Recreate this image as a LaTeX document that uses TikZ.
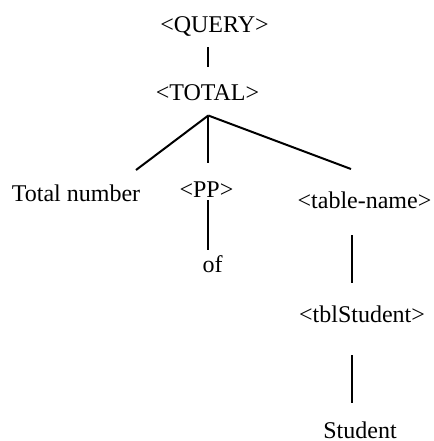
\documentclass[tikz,border=0pt]{standalone}
\usepackage{fontspec}
\setmainfont{Liberation Serif}
\usetikzlibrary{positioning}

\begin{document}
\begin{tikzpicture}[
    x=0.5pt, y=-0.5pt,
    word/.style={anchor=base, inner sep=0pt, font=\fontsize{12}{14}\selectfont},
    branch/.style={draw, line width=1pt}
]
\useasboundingbox (0,0) rectangle (434,441);

\node[word] (query) at (214.5,32) {<QUERY>};
\node[word] (total) at (207.5,100) {<TOTAL>};

\node[word] (tn) at (76,201) {Total number};
\node[word] (pp) at (206.5,197) {<PP>};
\node[word] (tname) at (364.5,208) {<table-name>};

\node[word] (of) at (212.5,272) {of};
\node[word] (tbl) at (362,322.5) {<tblStudent>};
\node[word] (student) at (360,438) {Student};

\coordinate (q-low) at (208.3,47);
\coordinate (t-top) at (208.3,67);
\coordinate (fork) at (208.3,115.5);
\coordinate (tn-top) at (136,170);
\coordinate (pp-top) at (208.3,163);
\coordinate (tname-top) at (351,169);
\coordinate (pp-low) at (208.3,200);
\coordinate (of-top) at (208.3,250);
\coordinate (tname-low) at (351.7,235);
\coordinate (tbl-top) at (351.7,283);
\coordinate (tbl-low) at (351.7,355);
\coordinate (student-top) at (351.7,403);

\draw[branch] (q-low) -- (t-top);

\draw[branch] (fork) -- (tn-top);
\draw[branch] (fork) -- (pp-top);
\draw[branch] (fork) -- (tname-top);

\draw[branch] (pp-low) -- (of-top);
\draw[branch] (tname-low) -- (tbl-top);
\draw[branch] (tbl-low) -- (student-top);

\end{tikzpicture}
\end{document}
